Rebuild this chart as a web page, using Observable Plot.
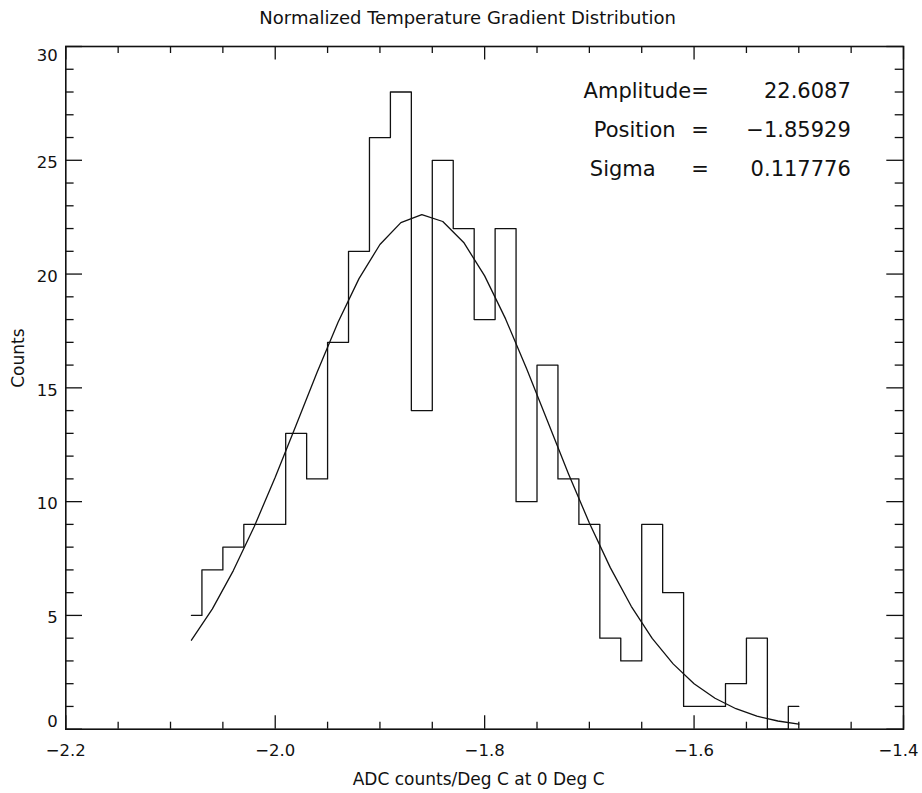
<!DOCTYPE html>
<html><head><meta charset="utf-8">
<script src="https://cdn.jsdelivr.net/npm/d3@7"></script>
<script src="https://cdn.jsdelivr.net/npm/@observablehq/plot@0.6"></script>
<style>html,body{margin:0;padding:0;background:#fff}</style>
</head><body><div id="chart"></div>
<script>
// ---- data ----
const binCenters = [-2.08, -2.06, -2.04, -2.02, -2.00, -1.98, -1.96, -1.94, -1.92, -1.90,
                    -1.88, -1.86, -1.84, -1.82, -1.80, -1.78, -1.76, -1.74, -1.72, -1.70,
                    -1.68, -1.66, -1.64, -1.62, -1.60, -1.58, -1.56, -1.54, -1.52, -1.50];
const counts = [5, 7, 8, 9, 9, 13, 11, 17, 21, 26,
                28, 14, 25, 22, 18, 22, 10, 16, 11, 9,
                4, 3, 9, 6, 1, 1, 2, 4, 0, 1];
const gaussFit = [3.91, 5.29, 6.97, 8.91, 11.07, 13.37, 15.69, 17.88, 19.80, 21.30,
                  22.26, 22.61, 22.31, 21.39, 19.92, 18.03, 15.85, 13.54, 11.23, 9.06,
                  7.10, 5.40, 3.99, 2.87, 2.00, 1.36, 0.90, 0.57, 0.36, 0.22];
const xMajorTicks = [-2.2, -2.0, -1.8, -1.6, -1.4];
const xMinorTicks = [-2.15, -2.10, -2.05, -1.95, -1.90, -1.85, -1.75, -1.70, -1.65, -1.55, -1.50, -1.45];
const yMajorTicks = [0, 5, 10, 15, 20, 25, 30];
const yMinorTicks = [1, 2, 3, 4, 6, 7, 8, 9, 11, 12, 13, 14, 16, 17, 18, 19, 21, 22, 23, 24, 26, 27, 28, 29];
const fitNames = ["Amplitude=", "Position", "Sigma"];
const fitValues = ["22.6087", "\u22121.85929", "0.117776"];
const chartTitle = "Normalized Temperature Gradient Distribution";
const xTitle = "ADC counts/Deg C at 0 Deg C";
const yTitle = "Counts";

// ---- layout ----
const W = 922, H = 793, mt = 46, mb = 64.3, ml = 65.3, mr = 19;
const pw = W - ml - mr, ph = H - mt - mb;
const hist = binCenters.map((x, i) => ({x, count: counts[i], fit: gaussFit[i]}));
const fmt = d3.format(".1f");
const ink = "#111";
const sw = 1.3;

const yMid = yMajorTicks.filter(d => d !== 0 && d !== 30);
const xInner = xMajorTicks.filter(d => d !== -1.4);
const xLast = xMajorTicks.filter(d => d === -1.4);
const rowDy = [45, 84, 123];
const nameDx = [516, 528, 524];

const annot = [];
fitNames.forEach((name, i) => {
  if (i === 0) {
    annot.push(Plot.text([name], {text: d => d, frameAnchor: "top-left", textAnchor: "end", lineAnchor: "middle", dx: 643, dy: rowDy[i], fontSize: 21, fill: ink}));
  } else {
    annot.push(Plot.text([name], {text: d => d, frameAnchor: "top-left", textAnchor: "start", lineAnchor: "middle", dx: nameDx[i], dy: rowDy[i], fontSize: 21, fill: ink}));
    annot.push(Plot.text(["="], {text: d => d, frameAnchor: "top-left", textAnchor: "end", lineAnchor: "middle", dx: 643, dy: rowDy[i], fontSize: 21, fill: ink}));
  }
  annot.push(Plot.text([fitValues[i]], {text: d => d, frameAnchor: "top-left", textAnchor: "end", lineAnchor: "middle", dx: 785, dy: rowDy[i], fontSize: 21, fill: ink}));
});

const chart = Plot.plot({
  width: W, height: H,
  marginTop: mt, marginBottom: mb, marginLeft: ml, marginRight: mr,
  style: {fontFamily: "'DejaVu Sans', sans-serif", fontSize: "16.5px", background: "#fff", color: ink},
  x: {domain: [-2.2, -1.4], axis: null},
  y: {domain: [0, 30], axis: null},
  marks: [
    Plot.line(hist, {x: "x", y: "count", curve: "step", stroke: ink, strokeWidth: sw}),
    Plot.line(hist, {x: "x", y: "fit", stroke: ink, strokeWidth: sw}),
    Plot.frame({stroke: ink, strokeWidth: 1.6}),
    Plot.tickX(xMajorTicks, {x: d => d, insetTop: ph - 13.5, stroke: ink, strokeWidth: sw}),
    Plot.tickX(xMajorTicks, {x: d => d, insetBottom: ph - 13.5, stroke: ink, strokeWidth: sw}),
    Plot.tickX(xMinorTicks, {x: d => d, insetTop: ph - 7, stroke: ink, strokeWidth: sw}),
    Plot.tickX(xMinorTicks, {x: d => d, insetBottom: ph - 7, stroke: ink, strokeWidth: sw}),
    Plot.tickY(yMajorTicks, {y: d => d, insetRight: pw - 16.7, stroke: ink, strokeWidth: sw}),
    Plot.tickY(yMajorTicks, {y: d => d, insetLeft: pw - 16.7, stroke: ink, strokeWidth: sw}),
    Plot.tickY(yMinorTicks, {y: d => d, insetRight: pw - 8.3, stroke: ink, strokeWidth: sw}),
    Plot.tickY(yMinorTicks, {y: d => d, insetLeft: pw - 8.3, stroke: ink, strokeWidth: sw}),
    Plot.text(xInner, {x: d => d, text: d => fmt(d), frameAnchor: "bottom", lineAnchor: "middle", dy: 21.3, fill: ink}),
    Plot.text(xLast, {x: d => d, text: d => fmt(d), frameAnchor: "bottom", lineAnchor: "middle", dx: -5, dy: 21.3, fill: ink}),
    Plot.text(yMid, {y: d => d, text: d => String(d), frameAnchor: "left", textAnchor: "end", lineAnchor: "middle", dx: -8, dy: 2.5, fill: ink}),
    Plot.text([0], {y: d => d, text: d => String(d), frameAnchor: "left", textAnchor: "end", lineAnchor: "middle", dx: -8, dy: -7, fill: ink}),
    Plot.text([30], {y: d => d, text: d => String(d), frameAnchor: "left", textAnchor: "end", lineAnchor: "middle", dx: -8, dy: 9.3, fill: ink}),
    Plot.text([chartTitle], {text: d => d, frameAnchor: "top", lineAnchor: "middle", dx: -17, dy: -28, fontSize: 18, fill: ink}),
    Plot.text([xTitle], {text: d => d, frameAnchor: "bottom", lineAnchor: "middle", dx: -6, dy: 50.3, fontSize: 17, fill: ink}),
    Plot.text([yTitle], {text: d => d, frameAnchor: "left", lineAnchor: "middle", rotate: -90, dx: -47, fontSize: 17, fill: ink}),
    ...annot
  ]
});
document.getElementById("chart").appendChild(chart);
</script>
</body></html>
